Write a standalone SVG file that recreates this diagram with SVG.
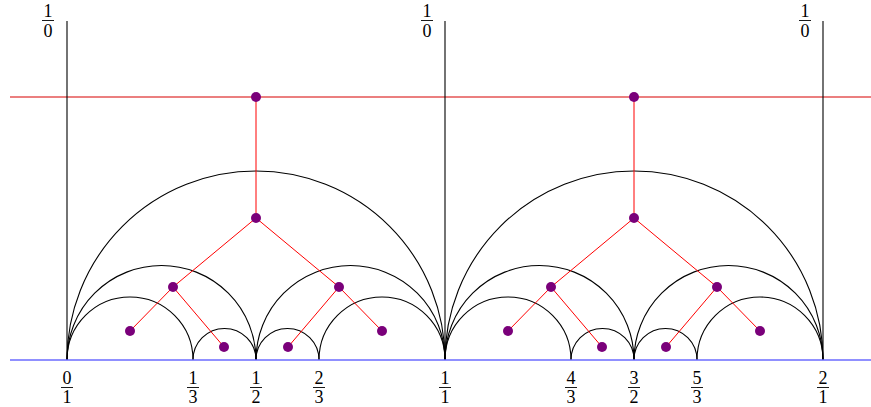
<svg xmlns="http://www.w3.org/2000/svg" width="871" height="407" viewBox="0 0 871 407">
<style>
.arc{fill:none;stroke:#000;stroke-width:1.1}
.edge{stroke:#ff0000;stroke-width:1;fill:none}
.dot{fill:#7a007a}
.lbl{font-family:"Liberation Serif","DejaVu Serif",serif;font-size:18px;text-anchor:middle;fill:#000}
.bar{stroke:#000;stroke-width:0.9}
</style>
<rect width="871" height="407" fill="#fff"/>
<g id="lines">
<line x1="10" y1="97" x2="871" y2="97" stroke="#d80000" stroke-width="1.2"/>
<line x1="67" y1="21" x2="67" y2="360" class="arc"/>
<line x1="445" y1="21" x2="445" y2="360" class="arc"/>
<line x1="823" y1="21" x2="823" y2="360" class="arc"/>
</g>
<g id="arcs">
<path class="arc" d="M67,360 A189,189 0 0 1 445,360"/>
<path class="arc" d="M67,360 A94.5,94.5 0 0 1 256,360"/>
<path class="arc" d="M256,360 A94.5,94.5 0 0 1 445,360"/>
<path class="arc" d="M67,360 A63,63 0 0 1 193,360"/>
<path class="arc" d="M193,360 A31.5,31.5 0 0 1 256,360"/>
<path class="arc" d="M256,360 A31.5,31.5 0 0 1 319,360"/>
<path class="arc" d="M319,360 A63,63 0 0 1 445,360"/>
<path class="arc" d="M445,360 A189,189 0 0 1 823,360"/>
<path class="arc" d="M445,360 A94.5,94.5 0 0 1 634,360"/>
<path class="arc" d="M634,360 A94.5,94.5 0 0 1 823,360"/>
<path class="arc" d="M445,360 A63,63 0 0 1 571,360"/>
<path class="arc" d="M571,360 A31.5,31.5 0 0 1 634,360"/>
<path class="arc" d="M634,360 A31.5,31.5 0 0 1 697,360"/>
<path class="arc" d="M697,360 A63,63 0 0 1 823,360"/>
</g>
<line x1="10" y1="360" x2="871" y2="360" stroke="#6b6bff" stroke-width="1.3"/>
<g id="connectors">
<path class="edge" d="M256,97 L256,218 M256,218 L173,287 M256,218 L339,287 M173,287 L130,331 M173,287 L224,347 M339,287 L288,347 M339,287 L382,331"/>
<path class="edge" d="M634,97 L634,218 M634,218 L551,287 M634,218 L717,287 M551,287 L508,331 M551,287 L602,347 M717,287 L666,347 M717,287 L760,331"/>
</g>
<g id="n1"><circle class="dot" cx="256" cy="97" r="5"/></g>
<g id="n2"><circle class="dot" cx="256" cy="218" r="5"/></g>
<g id="n3"><circle class="dot" cx="173" cy="287" r="5"/></g>
<g id="n4"><circle class="dot" cx="339" cy="287" r="5"/></g>
<g id="n5"><circle class="dot" cx="130" cy="331" r="5"/></g>
<g id="n6"><circle class="dot" cx="224" cy="347" r="5"/></g>
<g id="n7"><circle class="dot" cx="288" cy="347" r="5"/></g>
<g id="n8"><circle class="dot" cx="382" cy="331" r="5"/></g>
<g id="n9"><circle class="dot" cx="634" cy="97" r="5"/></g>
<g id="n10"><circle class="dot" cx="634" cy="218" r="5"/></g>
<g id="n11"><circle class="dot" cx="551" cy="287" r="5"/></g>
<g id="n12"><circle class="dot" cx="717" cy="287" r="5"/></g>
<g id="n13"><circle class="dot" cx="508" cy="331" r="5"/></g>
<g id="n14"><circle class="dot" cx="602" cy="347" r="5"/></g>
<g id="n15"><circle class="dot" cx="666" cy="347" r="5"/></g>
<g id="n16"><circle class="dot" cx="760" cy="331" r="5"/></g>
<g id="labels">
<g id="l-top1"><text class="lbl"><tspan x="48" y="17">1</tspan><tspan x="48" y="37">0</tspan></text><line class="bar" x1="42" y1="20.5" x2="54" y2="20.5"/></g>
<g id="l-top2"><text class="lbl"><tspan x="427" y="17">1</tspan><tspan x="427" y="37">0</tspan></text><line class="bar" x1="421" y1="20.5" x2="433" y2="20.5"/></g>
<g id="l-top3"><text class="lbl"><tspan x="805" y="17">1</tspan><tspan x="805" y="37">0</tspan></text><line class="bar" x1="799" y1="20.5" x2="811" y2="20.5"/></g>
<g id="l-0"><text class="lbl"><tspan x="67" y="383.5">0</tspan><tspan x="67" y="403">1</tspan></text><line class="bar" x1="61" y1="387.5" x2="73" y2="387.5"/></g>
<g id="l-13"><text class="lbl"><tspan x="193" y="383.5">1</tspan><tspan x="193" y="403">3</tspan></text><line class="bar" x1="187" y1="387.5" x2="199" y2="387.5"/></g>
<g id="l-12"><text class="lbl"><tspan x="256" y="383.5">1</tspan><tspan x="256" y="403">2</tspan></text><line class="bar" x1="250" y1="387.5" x2="262" y2="387.5"/></g>
<g id="l-23"><text class="lbl"><tspan x="319" y="383.5">2</tspan><tspan x="319" y="403">3</tspan></text><line class="bar" x1="313" y1="387.5" x2="325" y2="387.5"/></g>
<g id="l-1"><text class="lbl"><tspan x="445" y="383.5">1</tspan><tspan x="445" y="403">1</tspan></text><line class="bar" x1="439" y1="387.5" x2="451" y2="387.5"/></g>
<g id="l-43"><text class="lbl"><tspan x="571" y="383.5">4</tspan><tspan x="571" y="403">3</tspan></text><line class="bar" x1="565" y1="387.5" x2="577" y2="387.5"/></g>
<g id="l-32"><text class="lbl"><tspan x="634" y="383.5">3</tspan><tspan x="634" y="403">2</tspan></text><line class="bar" x1="628" y1="387.5" x2="640" y2="387.5"/></g>
<g id="l-53"><text class="lbl"><tspan x="697" y="383.5">5</tspan><tspan x="697" y="403">3</tspan></text><line class="bar" x1="691" y1="387.5" x2="703" y2="387.5"/></g>
<g id="l-2"><text class="lbl"><tspan x="823" y="383.5">2</tspan><tspan x="823" y="403">1</tspan></text><line class="bar" x1="817" y1="387.5" x2="829" y2="387.5"/></g>
</g>
</svg>
